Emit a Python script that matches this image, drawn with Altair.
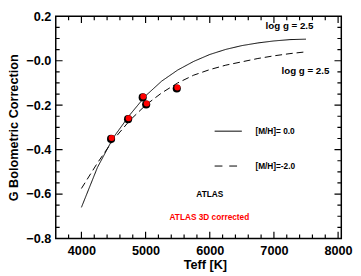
import altair as alt
import pandas as pd

# Model curves (log g = 2.5)
teff_curve = [4000, 4250, 4500, 4750, 5000, 5250, 5500, 5750, 6000, 6250, 6500, 6750, 7000, 7250, 7500]
bc_solar = [-0.66, -0.48, -0.345, -0.245, -0.158, -0.092, -0.042, -0.003, 0.028, 0.051, 0.068, 0.080, 0.089, 0.095, 0.097]
bc_poor = [-0.575, -0.46, -0.355, -0.27, -0.20, -0.145, -0.10, -0.065, -0.04, -0.02, -0.005, 0.010, 0.022, 0.032, 0.040]

# ATLAS (black) and ATLAS 3D corrected (red) points
teff_pts = [4471, 4736, 4964, 5018, 5495]
bc_atlas = [-0.352, -0.263, -0.165, -0.197, -0.125]
teff_atlas = [4462, 4727, 4955, 5009, 5486]
bc_3d = [-0.348, -0.259, -0.161, -0.193, -0.121]

x_major = [4000, 5000, 6000, 7000, 8000]
x_minor = [3800, 4200, 4400, 4600, 4800, 5200, 5400, 5600, 5800, 6200, 6400, 6600, 6800,
           7200, 7400, 7600, 7800]
y_major = [-0.8, -0.6, -0.4, -0.2, 0.0, 0.2]
y_minor = [-0.75, -0.7, -0.65, -0.55, -0.5, -0.45, -0.35, -0.3, -0.25, -0.15, -0.1, -0.05,
           0.05, 0.1, 0.15]

W, H = 293, 228
FONT = "Liberation Sans"
XD = [3600, 8050]
YD = [-0.8, 0.2]

xs = alt.Scale(domain=XD, nice=False, zero=False)
ys = alt.Scale(domain=YD, nice=False, zero=False)

curves = pd.DataFrame({
    "teff": teff_curve * 2,
    "bc": bc_solar + bc_poor,
    "met": ["0.0"] * len(teff_curve) + ["-2.0"] * len(teff_curve),
})

x_axis = alt.Axis(values=x_major, ticks=False, domain=False, grid=False, format="d",
                  labelFont=FONT, labelFontSize=13, labelFontWeight="bold", labelColor="black",
                  labelPadding=6, title="Teff [K]", titleFont=FONT, titleFontSize=13,
                  titleFontWeight="bold", titleColor="black", titlePadding=2, titleX=153)
y_axis = alt.Axis(values=y_major, ticks=False, domain=False, grid=False,
                  labelFont=FONT, labelFontSize=13, labelFontWeight="bold", labelColor="black",
                  labelPadding=5,
                  labelExpr="datum.value > 0.1 ? '0.2' : replace(format(datum.value, '.1f'), '-', '\u2212') == '0.0' ? '\u22120.0' : replace(format(datum.value, '.1f'), '-', '\u2212')",
                  title="G Bolometric Correction", titleFont=FONT, titleFontSize=13,
                  titleFontWeight="bold", titleColor="black", titlePadding=6)

base_lines = alt.Chart(curves).mark_line(color="black", strokeWidth=1).encode(
    x=alt.X("teff:Q", scale=xs, axis=x_axis),
    y=alt.Y("bc:Q", scale=ys, axis=y_axis),
    strokeDash=alt.StrokeDash("met:N", scale=alt.Scale(domain=["0.0", "-2.0"], range=[[1, 0], [7, 4]]), legend=None),
)

pts_atlas = alt.Chart(pd.DataFrame({"teff": teff_atlas, "bc": bc_atlas})).mark_point(
    filled=True, color="black", size=70, opacity=1, shape="circle").encode(
    x=alt.X("teff:Q", scale=xs), y=alt.Y("bc:Q", scale=ys))
pts_3d = alt.Chart(pd.DataFrame({"teff": teff_pts, "bc": bc_3d})).mark_point(
    filled=True, color="#ff0000", size=38, opacity=1, shape="circle").encode(
    x=alt.X("teff:Q", scale=xs), y=alt.Y("bc:Q", scale=ys))

# inward ticks: tick marks centred on the frame, clipped to the plot area
def xtick_layer(vals, edge, length):
    df = pd.DataFrame({"tv": vals, "edge": [edge] * len(vals)})
    return alt.Chart(df).mark_tick(color="black", thickness=1.2, size=2 * length,
                                   orient="vertical", clip=True, opacity=1).encode(
        x=alt.X("tv:Q", scale=xs), y=alt.Y("edge:Q", scale=ys))

def ytick_layer(vals, edge, length):
    df = pd.DataFrame({"tw": vals, "edge2": [edge] * len(vals)})
    return alt.Chart(df).mark_tick(color="black", thickness=1.2, size=2 * length,
                                   orient="horizontal", clip=True, opacity=1).encode(
        y=alt.Y("tw:Q", scale=ys), x=alt.X("edge2:Q", scale=xs))

tick_layers = [
    xtick_layer(x_major, YD[0], 7), xtick_layer(x_major, YD[1], 7),
    xtick_layer(x_minor, YD[0], 4), xtick_layer(x_minor, YD[1], 4),
    ytick_layer(y_major, XD[0], 7), ytick_layer(y_major, XD[1], 7),
    ytick_layer(y_minor, XD[0], 4), ytick_layer(y_minor, XD[1], 4),
]

def label(txt, tx, ty, color="black", size=9, align="center"):
    return alt.Chart(pd.DataFrame({"t": [txt]})).mark_text(
        font=FONT, fontSize=size, fontWeight="bold", color=color, align=align, baseline="middle").encode(
        x=alt.datum(tx, scale=xs), y=alt.datum(ty, scale=ys), text="t:N")

texts = [
    label("log  g  =  2.5", 7243, 0.158, size=10),
    label("log  g  =  2.5", 7491, -0.047, size=10),
    label("[M/H]= 0.0", 6711, -0.317, size=8.5, align="left"),
    label("[M/H]=-2.0", 6711, -0.474, size=8.5, align="left"),
    label("ATLAS", 6001, -0.601, size=8.5),
    label("ATLAS 3D corrected", 5994, -0.704, color="#ff0000", size=8.5),
]

leg_solid = alt.Chart(pd.DataFrame({"a": [6076], "b": [6500], "c": [-0.317]})).mark_rule(
    color="black", strokeWidth=1).encode(x=alt.X("a:Q", scale=xs), x2="b:Q", y=alt.Y("c:Q", scale=ys))
leg_dash = alt.Chart(pd.DataFrame({"a": [6076], "b": [6430], "c": [-0.474]})).mark_rule(
    color="black", strokeWidth=1, strokeDash=[8, 7]).encode(x=alt.X("a:Q", scale=xs), x2="b:Q", y=alt.Y("c:Q", scale=ys))

chart = alt.layer(base_lines, *tick_layers, leg_solid, leg_dash, pts_atlas, pts_3d, *texts).properties(
    width=W, height=H,
    background="white",
    autosize=alt.AutoSizeParams(type="none"),
    padding={"left": 49, "top": 5, "right": 12, "bottom": 35},
).configure_view(stroke="black", strokeWidth=1.5)

chart.save("out.html", embed_options={"renderer": "svg", "actions": False})
